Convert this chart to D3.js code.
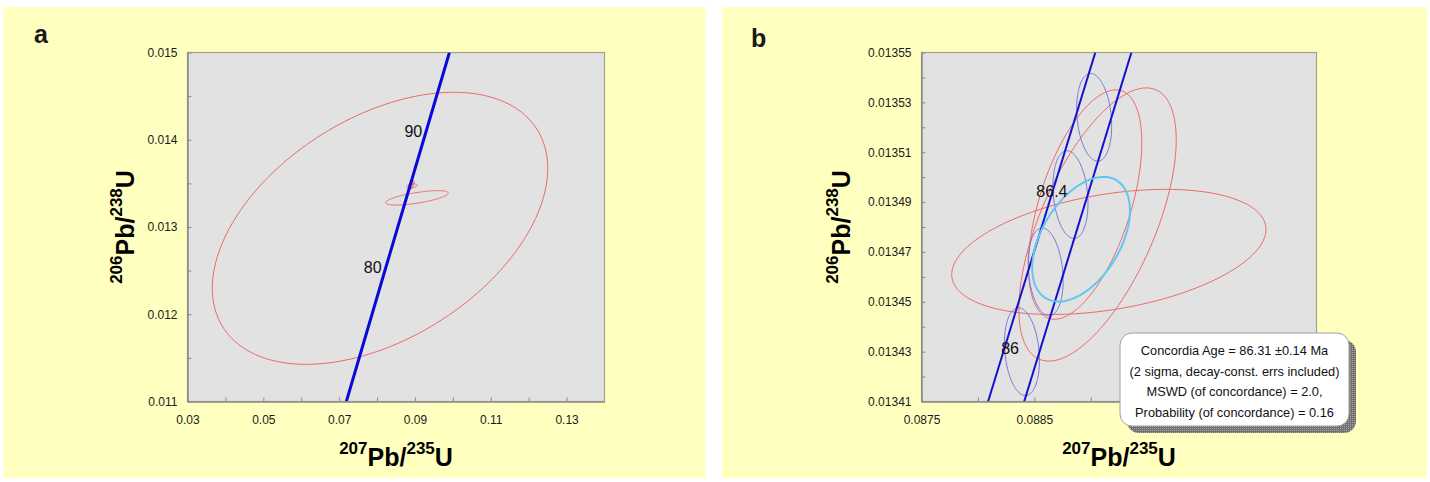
<!DOCTYPE html>
<html>
<head>
<meta charset="utf-8">
<script src="https://cdn.jsdelivr.net/npm/d3@7"></script>
<style>
  body { margin: 0; background: #ffffff; }
  svg { display: block; }
  text { font-family: "Liberation Sans", Arial, Helvetica, sans-serif; }
</style>
</head>
<body>
<svg id="chart" width="1430" height="482"></svg>
<script>
// ---------------- data ----------------
// panel a axis ticks
const aXTicks = [0.03, 0.04, 0.05, 0.06, 0.07, 0.08, 0.09, 0.10, 0.11, 0.12, 0.13];
const aXLabels = ["0.03", "0.05", "0.07", "0.09", "0.11", "0.13"];
const aYTicks = [0.011, 0.0115, 0.012, 0.0125, 0.013, 0.0135, 0.014, 0.0145, 0.015];
const aYLabels = ["0.011", "0.012", "0.013", "0.014", "0.015"];

// panel b axis ticks (labels at 0.0895 and 0.0905 sit under the result box)
const bXTicks = [0.0875, 0.0880, 0.0885, 0.0890, 0.0895, 0.0900, 0.0905];
const bXLabels = ["0.0875", "0.0885"];
const bYTicks = [0.01341, 0.01342, 0.01343, 0.01344, 0.01345, 0.01346, 0.01347, 0.01348,
                 0.01349, 0.01350, 0.01351, 0.01352, 0.01353, 0.01354, 0.01355];
const bYLabels = ["0.01341", "0.01343", "0.01345", "0.01347", "0.01349", "0.01351", "0.01353", "0.01355"];

// concordia (207Pb/235U, 206Pb/238U) through the panel a window
const concordiaA = [[0.0719, 0.0110], [0.0820, 0.01249], [0.0927, 0.01406], [0.0991, 0.0150]];
const ageLabelsA = ["80", "90"];
const ageLabelPtsA = [[0.0820, 0.01249], [0.0927, 0.01406]];

// concordia band with decay-constant errors, panel b
const bandLeftB = [[0.08809, 0.01341], [0.08904, 0.01355]];
const bandRightB = [[0.08841, 0.01341], [0.08936, 0.01355]];

// age ellipses on the concordia band (Ma)
const ageMarksB = [86.0, 86.2, 86.4, 86.6];
const ageMarkX = [0.08839, 0.08860, 0.08882, 0.08903];
const ageMarkY = [0.013430, 0.013462, 0.013493, 0.013524];
const ageMarkErr = [0.000155, 0.0000176, -0.2];   // x half-width, y half-height, rho
const ageLabelsB = ["86", "86.4"];
const ageLabelIdxB = [0, 2];

// analysis error ellipses: centre x, centre y, x half-width, y half-height, rho
const spotX   = [0.08916, 0.08895, 0.08906, 0.08078, 0.09054];
const spotY   = [0.013470, 0.013489, 0.013481, 0.012985, 0.013334];
const spotSX  = [0.001392, 0.000502, 0.000697, 0.04424, 0.00826];
const spotSY  = [0.0000251, 0.0000460, 0.0000548, 0.001559, 0.0000825];
const spotRho = [0.36, 0.54, 0.62, 0.44, 0.67];

// concordia age ellipse
const concEllipse = [0.088914, 0.0134751, 0.000433, 0.0000250, 0.46];

const legendLines = [
  "Concordia Age = 86.31 \u00b10.14 Ma",
  "(2 sigma, decay-const. errs included)",
  "MSWD (of concordance) = 2.0,",
  "Probability (of concordance) = 0.16"
];

// ---------------- drawing ----------------
const svg = d3.select("#chart");
const defs = svg.append("defs");

const dots = defs.append("pattern").attr("id", "shadowDots")
  .attr("width", 2).attr("height", 2).attr("patternUnits", "userSpaceOnUse");
dots.append("rect").attr("width", 2).attr("height", 2).attr("fill", "#6f6f6f");
dots.append("rect").attr("width", 1).attr("height", 1).attr("fill", "#a8a8a8");

const YELLOW = "#ffffc0";
const PLOTBG = "#e2e2e2";
const RED = "#e86a6a";

function ellipsePts(cx, cy, sx, sy, rho) {
  const pts = [];
  const s = Math.sqrt(1 - rho * rho);
  for (let i = 0; i < 180; i++) {
    const t = (i / 180) * 2 * Math.PI;
    pts.push([cx + sx * Math.cos(t), cy + sy * (rho * Math.cos(t) + s * Math.sin(t))]);
  }
  return pts;
}

// label a tick only when it matches one of the listed label values
function labeller(labels) {
  return d => {
    const hit = labels.find(s => Math.abs(+s - d) < 1e-9);
    return hit === undefined ? "" : hit;
  };
}

function panel(cfg) {
  const g = svg.append("g");
  g.append("rect").attr("x", cfg.bg[0]).attr("y", cfg.bg[1])
    .attr("width", cfg.bg[2]).attr("height", cfg.bg[3]).attr("fill", YELLOW);

  const x = d3.scaleLinear().domain(cfg.xDomain).range([cfg.left, cfg.right]);
  const y = d3.scaleLinear().domain(cfg.yDomain).range([cfg.bottom, cfg.top]);

  g.append("rect").attr("x", cfg.left).attr("y", cfg.top)
    .attr("width", cfg.right - cfg.left).attr("height", cfg.bottom - cfg.top)
    .attr("fill", PLOTBG).attr("stroke", "#a3a38e").attr("stroke-width", 1.2);

  const clipId = "clip" + cfg.id;
  defs.append("clipPath").attr("id", clipId).append("rect")
    .attr("x", cfg.left).attr("y", cfg.top)
    .attr("width", cfg.right - cfg.left).attr("height", cfg.bottom - cfg.top);
  const plot = g.append("g").attr("clip-path", `url(#${clipId})`);

  // axes with inward ticks
  const xAxis = d3.axisBottom(x).tickValues(cfg.xTicks).tickSizeInner(-4).tickSizeOuter(0)
    .tickPadding(14).tickFormat(labeller(cfg.xLabels));
  const yAxis = d3.axisLeft(y).tickValues(cfg.yTicks).tickSizeInner(-4).tickSizeOuter(0)
    .tickPadding(10).tickFormat(labeller(cfg.yLabels));

  const gx = g.append("g").attr("transform", `translate(0,${cfg.bottom})`).call(xAxis);
  const gy = g.append("g").attr("transform", `translate(${cfg.left},0)`).call(yAxis);
  [gx, gy].forEach(a => {
    a.select(".domain").attr("stroke", "#8a8a8a").attr("stroke-width", 1.5);
    a.selectAll(".tick line").attr("stroke", "#8a8a8a").attr("stroke-width", 1);
    a.selectAll(".tick text").attr("fill", "#1a1a1a")
      .style("font-size", "12px").style("font-family", "'Liberation Sans', Arial, sans-serif");
  });

  // panel letter
  g.append("text").attr("x", cfg.letterPos[0]).attr("y", cfg.letterPos[1])
    .attr("font-size", 25).attr("font-weight", "bold").attr("fill", "#1a1a1a").text(cfg.letter);

  // axis titles
  const cxMid = (cfg.left + cfg.right) / 2;
  const cyMid = (cfg.top + cfg.bottom) / 2;
  function title(sel, a, b) {
    sel.append("tspan").attr("font-size", 17).attr("dy", -12).text(a);
    sel.append("tspan").attr("font-size", 25).attr("dy", 12).text("Pb/");
    sel.append("tspan").attr("font-size", 17).attr("dy", -12).text(b);
    sel.append("tspan").attr("font-size", 25).attr("dy", 12).text("U");
  }
  const xt = g.append("text").attr("x", cxMid).attr("y", 466).attr("text-anchor", "middle")
    .attr("font-weight", "bold").attr("fill", "#000");
  title(xt, "207", "235");
  const yt = g.append("text").attr("transform", `translate(${cfg.yTitleX},${cyMid}) rotate(-90)`)
    .attr("text-anchor", "middle").attr("font-weight", "bold").attr("fill", "#000");
  title(yt, "206", "238");

  return { g, plot, x, y };
}

const line = (x, y) => d3.line().x(d => x(d[0])).y(d => y(d[1]));
const closed = (x, y) => d3.line().x(d => x(d[0])).y(d => y(d[1])).curve(d3.curveLinearClosed);

// ----- panel a -----
const A = panel({
  id: "A", letter: "a", letterPos: [34, 43],
  bg: [3.5, 7, 702, 471],
  left: 187.5, right: 604.5, top: 52.5, bottom: 401.5,
  xDomain: [0.03, 0.14], yDomain: [0.011, 0.015],
  xTicks: aXTicks, yTicks: aYTicks, xLabels: aXLabels, yLabels: aYLabels,
  yTitleX: 134
});

spotX.forEach((cx, i) => {
  A.plot.append("path")
    .attr("d", closed(A.x, A.y)(ellipsePts(cx, spotY[i], spotSX[i], spotSY[i], spotRho[i])))
    .attr("fill", "none").attr("stroke", RED).attr("stroke-width", 1);
});
A.plot.append("path").attr("d", line(A.x, A.y)(concordiaA))
  .attr("fill", "none").attr("stroke", "#0a0ad8").attr("stroke-width", 3);
ageLabelPtsA.forEach((p, i) => {
  A.g.append("text").attr("x", A.x(p[0]) - 3).attr("y", A.y(p[1]) + 2)
    .attr("text-anchor", "end").attr("font-size", 16).attr("fill", "#111").text(ageLabelsA[i]);
});

// ----- panel b -----
const B = panel({
  id: "B", letter: "b", letterPos: [751, 47],
  bg: [722, 7, 705, 471],
  left: 921.5, right: 1316.5, top: 52.5, bottom: 401.5,
  xDomain: [0.0875, 0.091], yDomain: [0.01341, 0.01355],
  xTicks: bXTicks, yTicks: bYTicks, xLabels: bXLabels, yLabels: bYLabels,
  yTitleX: 850
});

spotX.forEach((cx, i) => {
  B.plot.append("path")
    .attr("d", closed(B.x, B.y)(ellipsePts(cx, spotY[i], spotSX[i], spotSY[i], spotRho[i])))
    .attr("fill", "none").attr("stroke", RED).attr("stroke-width", 1);
});
ageMarksB.forEach((age, i) => {
  B.plot.append("path")
    .attr("d", closed(B.x, B.y)(ellipsePts(ageMarkX[i], ageMarkY[i], ageMarkErr[0], ageMarkErr[1], ageMarkErr[2])))
    .attr("fill", "none").attr("stroke", "#7474dc").attr("stroke-width", 1);
});
[bandLeftB, bandRightB].forEach(b => {
  B.plot.append("path").attr("d", line(B.x, B.y)(b))
    .attr("fill", "none").attr("stroke", "#1212cc").attr("stroke-width", 2);
});
B.plot.append("path")
  .attr("d", closed(B.x, B.y)(ellipsePts(...concEllipse)))
  .attr("fill", "none").attr("stroke", "#62c6f2").attr("stroke-width", 2);
ageLabelIdxB.forEach((k, i) => {
  B.g.append("text").attr("x", B.x(ageMarkX[k]) - 3).attr("y", B.y(ageMarkY[k]) + 2)
    .attr("text-anchor", "end").attr("font-size", 16).attr("fill", "#111").text(ageLabelsB[i]);
});

// result box
const box = { x: 1120, y: 333, w: 229, h: 93, r: 12 };
B.g.append("rect").attr("x", box.x + 7).attr("y", box.y + 7).attr("width", box.w).attr("height", box.h)
  .attr("rx", box.r).attr("fill", "url(#shadowDots)");
B.g.append("rect").attr("x", box.x).attr("y", box.y).attr("width", box.w).attr("height", box.h)
  .attr("rx", box.r).attr("fill", "#ffffff").attr("stroke", "#a0a0a0").attr("stroke-width", 1);
legendLines.forEach((t, i) => {
  B.g.append("text").attr("x", box.x + box.w / 2).attr("y", box.y + 22 + i * 20.5)
    .attr("text-anchor", "middle").attr("font-size", 12.8).attr("fill", "#111").text(t);
});
</script>
</body>
</html>
